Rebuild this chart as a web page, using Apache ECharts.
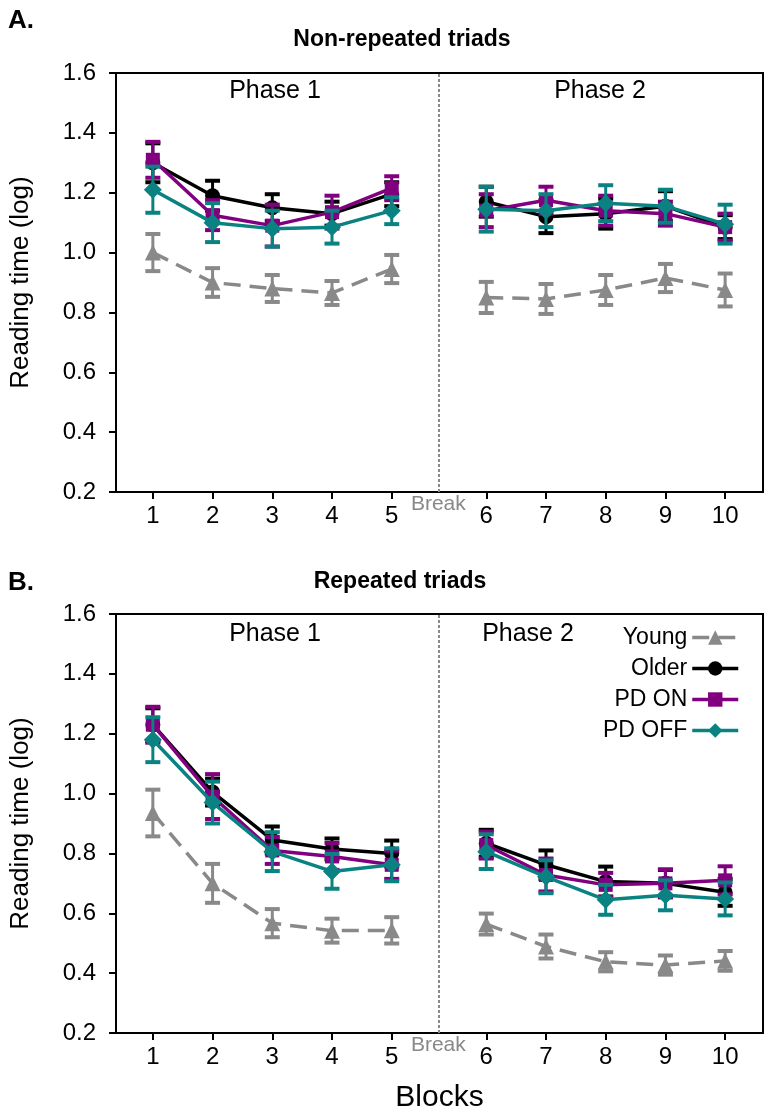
<!DOCTYPE html>
<html><head><meta charset="utf-8">
<script src="https://cdn.jsdelivr.net/npm/echarts@6/dist/echarts.min.js"></script>
<style>html,body{margin:0;padding:0;background:#fff}#c{width:767px;height:1114px}</style>
</head><body><div id="c"></div>
<script>
// ---------- data ----------
const blocks = [1, 2, 3, 4, 5, 6, 7, 8, 9, 10];
const blockLabels = ['1', '2', '3', '4', '5', '6', '7', '8', '9', '10'];
const groups = ['Young', 'Older', 'PD ON', 'PD OFF'];
const yTickMin = 0.2, yTickMax = 1.6, yTickStep = 0.2;

// Panel A: Non-repeated triads
const youngA     = [1.00, 0.90, 0.88, 0.865, 0.945, 0.85, 0.845, 0.875, 0.915, 0.875];
const youngAErr  = [0.062, 0.048, 0.045, 0.04, 0.047, 0.052, 0.05, 0.05, 0.047, 0.055];
const olderA     = [1.30, 1.19, 1.15, 1.13, 1.195, 1.17, 1.12, 1.13, 1.155, 1.085];
const olderAErr  = [0.065, 0.05, 0.045, 0.04, 0.04, 0.05, 0.055, 0.05, 0.05, 0.04];
const pdOnA      = [1.31, 1.125, 1.09, 1.135, 1.215, 1.14, 1.175, 1.14, 1.13, 1.085];
const pdOnAErr   = [0.06, 0.05, 0.07, 0.055, 0.04, 0.055, 0.045, 0.05, 0.04, 0.045];
const pdOffA     = [1.21, 1.10, 1.08, 1.085, 1.14, 1.145, 1.14, 1.165, 1.155, 1.095];
const pdOffAErr  = [0.077, 0.065, 0.06, 0.055, 0.045, 0.075, 0.055, 0.06, 0.055, 0.065];

// Panel B: Repeated triads
const youngB     = [0.935, 0.70, 0.567, 0.542, 0.543, 0.564, 0.489, 0.438, 0.427, 0.441];
const youngBErr  = [0.078, 0.065, 0.047, 0.04, 0.044, 0.035, 0.04, 0.032, 0.032, 0.033];
const olderB     = [1.23, 1.005, 0.845, 0.815, 0.80, 0.834, 0.762, 0.706, 0.70, 0.67];
const olderBErr  = [0.055, 0.045, 0.045, 0.035, 0.043, 0.045, 0.048, 0.05, 0.045, 0.045];
const pdOnB      = [1.23, 0.99, 0.81, 0.79, 0.762, 0.828, 0.728, 0.695, 0.70, 0.71];
const pdOnBErr   = [0.06, 0.075, 0.045, 0.045, 0.047, 0.045, 0.055, 0.04, 0.047, 0.047];
const pdOffB     = [1.18, 0.97, 0.806, 0.74, 0.762, 0.806, 0.722, 0.645, 0.66, 0.648];
const pdOffBErr  = [0.075, 0.07, 0.065, 0.058, 0.055, 0.058, 0.055, 0.05, 0.05, 0.055];

// ---------- layout / style ----------
const FONT = '"Liberation Sans", Arial, sans-serif';
const phaseGap = 0.583;           // extra spacing between block 5 and 6 (break)
const breakPos = 5.783;
const xMin = 0.383, xMax = 11.217;
const xPos = b => (b <= 5 ? b : b + phaseGap);
const xTickPos = blocks.map(xPos);

const styles = {
  'Young':  {color: '#898989', symbol: 'triangle', size: 16, dash: [17, 9], z: 2},
  'Older':  {color: '#000000', symbol: 'circle', size: 15, dash: 'solid', z: 4},
  'PD ON':  {color: '#800080', symbol: 'rect', size: 14, dash: 'solid', z: 6},
  'PD OFF': {color: '#0a8282', symbol: 'diamond', size: 18, dash: 'solid', z: 8}
};

const panels = [
  {title: 'Non-repeated triads', data: [[youngA, youngAErr], [olderA, olderAErr], [pdOnA, pdOnAErr], [pdOffA, pdOffAErr]]},
  {title: 'Repeated triads', data: [[youngB, youngBErr], [olderB, olderBErr], [pdOnB, pdOnBErr], [pdOffB, pdOffBErr]]}
];

const gridTops = [73, 614];
const gridH = 419;

const grids = gridTops.map(t => ({left: 113, right: 4, top: t, height: gridH, show: true, borderColor: '#000', borderWidth: 2, backgroundColor: 'transparent'}));

const labelFor = v => {
  let best = 0, bd = 1e9;
  xTickPos.forEach((p, i) => { const d = Math.abs(p - v); if (d < bd) { bd = d; best = i; } });
  return blockLabels[best];
};

const xAxes = [0, 1].map(i => ({
  type: 'value', gridIndex: i, min: xMin, max: xMax,
  axisLine: {lineStyle: {color: '#000', width: 2}},
  axisTick: {show: true, customValues: xTickPos, length: 7, lineStyle: {color: '#000', width: 2}},
  axisLabel: {customValues: xTickPos, formatter: labelFor, color: '#000', fontSize: 24, fontFamily: FONT, margin: 12},
  splitLine: {show: false},
  name: i === 1 ? 'Blocks' : '',
  nameLocation: 'middle', nameGap: 50,
  nameTextStyle: {fontSize: 30, fontFamily: FONT, color: '#000'}
}));

const yAxes = [0, 1].map(i => ({
  type: 'value', gridIndex: i, min: yTickMin, max: yTickMax, interval: yTickStep,
  axisLine: {show: true, lineStyle: {color: '#000', width: 2}},
  axisTick: {show: true, length: 7, lineStyle: {color: '#000', width: 2}},
  axisLabel: {formatter: v => v.toFixed(1), color: '#000', fontSize: 24, fontFamily: FONT, margin: 20},
  splitLine: {show: false},
  name: 'Reading time (log)', nameLocation: 'middle', nameGap: 82,
  nameTextStyle: {fontSize: 26, fontFamily: FONT, color: '#000'}
}));

function makeErr(color) {
  return function (params, api) {
    const x = api.value(0), y = api.value(1), e = api.value(2);
    const top = api.coord([x, y + e]);
    const bot = api.coord([x, y - e]);
    const hw = 7.5;
    const st = {stroke: color, lineWidth: 3};
    const cs = {stroke: color, lineWidth: 4};
    return {type: 'group', children: [
      {type: 'line', shape: {x1: top[0], y1: top[1], x2: bot[0], y2: bot[1]}, style: st},
      {type: 'line', shape: {x1: top[0] - hw, y1: top[1], x2: top[0] + hw, y2: top[1]}, style: cs},
      {type: 'line', shape: {x1: bot[0] - hw, y1: bot[1], x2: bot[0] + hw, y2: bot[1]}, style: cs}
    ]};
  };
}

const series = [];
panels.forEach((panel, p) => {
  groups.forEach((g, gi) => {
    const st = styles[g];
    const vals = panel.data[gi][0];
    const lineData = [];
    blocks.forEach((b, k) => {
      if (b === 6) lineData.push([breakPos, '-']);
      lineData.push([xPos(b), vals[k]]);
    });
    const s = {
      type: 'line', name: g, xAxisIndex: p, yAxisIndex: p,
      data: lineData, connectNulls: false,
      symbol: st.symbol, symbolSize: st.size, showSymbol: true,
      itemStyle: {color: st.color},
      lineStyle: {color: st.color, width: 3.5, type: st.dash},
      z: st.z + 1, animation: false, silent: true
    };
    if (gi === 0) {
      s.markLine = {
        silent: true, symbol: ['none', 'none'], animation: false,
        lineStyle: {color: '#8a8a8a', type: [3, 2], width: 2},
        label: {show: true, position: 'start', formatter: 'Break', color: '#888', fontSize: 21, fontFamily: FONT, distance: 2},
        emphasis: {disabled: true},
        data: [{xAxis: breakPos}]
      };
    }
    series.push(s);
  });
  groups.forEach((g, gi) => {
    const st = styles[g];
    const vals = panel.data[gi][0];
    const errs = panel.data[gi][1];
    series.push({
      type: 'custom', name: g + ' SE', xAxisIndex: p, yAxisIndex: p,
      data: blocks.map((b, k) => [xPos(b), vals[k], errs[k]]),
      encode: {x: 0, y: 1},
      renderItem: makeErr(st.color),
      z: st.z, animation: false, silent: true
    });
  });
});

const txt = (text, x, y, size, bold, align, color) => ({
  type: 'text', x: x, y: y,
  style: {text: text, fill: color || '#000', fontSize: size, fontWeight: bold ? 'bold' : 'normal', fontFamily: FONT, textAlign: align || 'center', textVerticalAlign: 'middle'}
});

const graphics = [
  txt('A.', 8, 21, 26, true, 'left'),
  txt('Non-repeated triads', 402, 40, 23, true),
  txt('Phase 1', 275, 91, 25, false),
  txt('Phase 2', 600, 91, 25, false),
  txt('B.', 8, 583, 26, true, 'left'),
  txt('Repeated triads', 400, 582, 23, true),
  txt('Phase 1', 275, 634, 25, false),
  txt('Phase 2', 528, 634, 25, false)
];

const chart = echarts.init(document.getElementById('c'), null, {renderer: 'canvas'});
chart.setOption({
  backgroundColor: '#fff',
  animation: false,
  grid: grids,
  xAxis: xAxes,
  yAxis: yAxes,
  legend: {
    data: groups, orient: 'vertical', right: 22, top: 621, align: 'right',
    itemWidth: 46, itemHeight: 18, itemGap: 8, selectedMode: false,
    lineStyle: {width: 3.5},
    textStyle: {fontSize: 23, lineHeight: 23, fontFamily: FONT, color: '#000'}
  },
  graphic: graphics,
  series: series
});
</script></body></html>
